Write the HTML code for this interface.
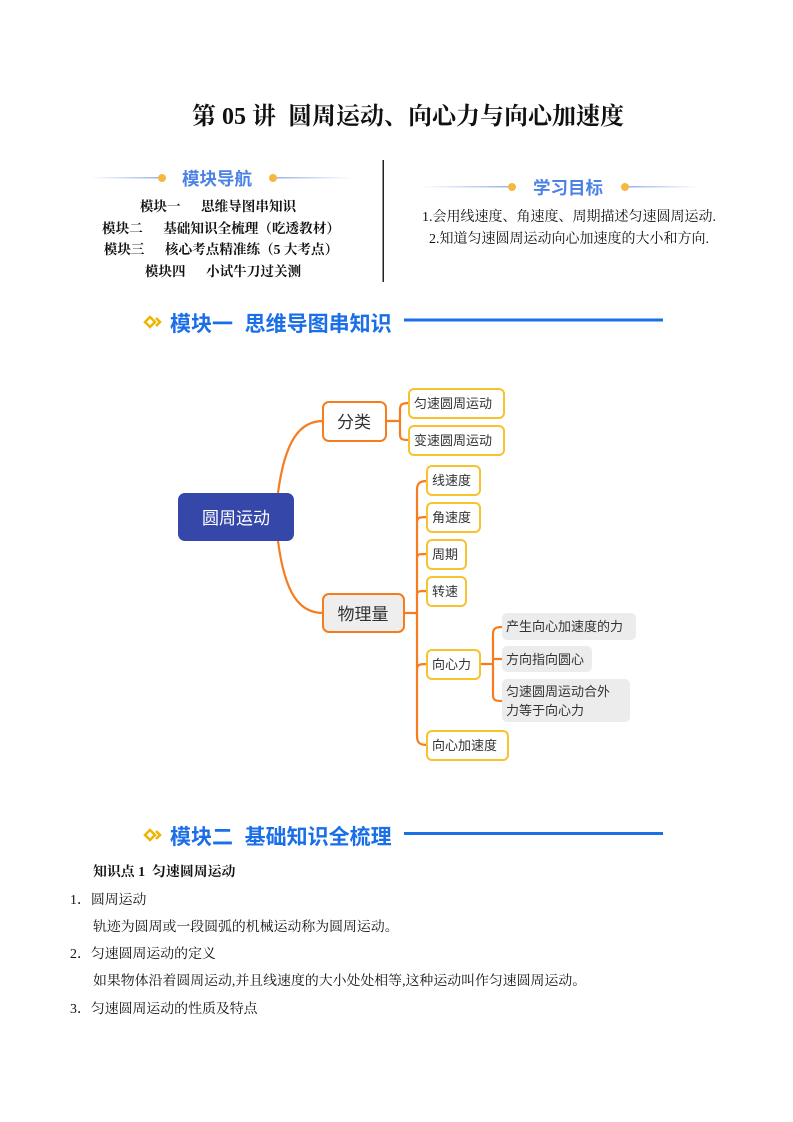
<!DOCTYPE html>
<html><head><meta charset="utf-8"><style>
body{margin:0;background:#fff;}
#p{position:relative;width:793px;height:1122px;overflow:hidden;font-family:"Liberation Serif","Noto Serif CJK SC",serif;color:#111;}
.a{position:absolute;white-space:nowrap;}
.nav{font-weight:bold;font-size:13.6px;}
.h{font-family:"Liberation Sans","Noto Sans CJK SC",sans-serif;font-weight:bold;color:#1a6ee8;font-size:21px;}
.hb{font-family:"Liberation Sans","Noto Sans CJK SC",sans-serif;font-weight:bold;color:#4c82e6;font-size:17.5px;}
.t{font-size:13.9px;}
svg text{font-family:"Liberation Sans","Noto Sans CJK SC",sans-serif;}
</style></head><body><div id="p">
<div class="a" style="left:0;width:816px;text-align:center;top:96px;font-size:24px;font-weight:bold;">第 05 讲&nbsp; 圆周运动、向心力与向心加速度</div>

<svg class="a" style="left:0;top:0" width="793" height="400">
<defs><linearGradient id="g1" x1="0" x2="1"><stop offset="0" stop-color="#fff"/><stop offset="1" stop-color="#9bb4e6"/></linearGradient>
<linearGradient id="g2" x1="0" x2="1"><stop offset="0" stop-color="#9bb4e6"/><stop offset="1" stop-color="#fff"/></linearGradient></defs>
<rect x="90" y="177" width="70" height="1.5" fill="url(#g1)"/><circle cx="162" cy="178" r="4" fill="#f5b942"/>
<circle cx="273" cy="178" r="4" fill="#f5b942"/><rect x="277" y="177" width="75" height="1.5" fill="url(#g2)"/>
<rect x="420" y="186" width="89" height="1.5" fill="url(#g1)"/><circle cx="512" cy="187" r="4" fill="#f5b942"/>
<circle cx="625" cy="187" r="4" fill="#f5b942"/><rect x="629" y="186" width="70" height="1.5" fill="url(#g2)"/>
<rect x="382.5" y="160" width="1.5" height="122" fill="#222"/>
<rect x="404" y="318.5" width="259" height="3" fill="#1a6ee8"/>
<g transform="translate(153,322)"><path d="M-8 0 L-3 -5 L2 0 L-3 5Z" fill="none" stroke="#f0b400" stroke-width="2.5"/><path d="M3 -4 L7 0 L3 4" fill="none" stroke="#f0b400" stroke-width="2.5"/></g>
</svg>
<div class="a hb" style="left:182px;top:166px;">模块导航</div>
<div class="a hb" style="left:533px;top:175px;">学习目标</div>
<div class="a nav" style="left:0;width:436px;text-align:center;top:195px;">模块一&nbsp;&nbsp;&nbsp;&nbsp;&nbsp; 思维导图串知识</div>
<div class="a nav" style="left:0;width:442px;text-align:center;top:217px;">模块二&nbsp;&nbsp;&nbsp;&nbsp;&nbsp; 基础知识全梳理（吃透教材）</div>
<div class="a nav" style="left:0;width:442px;text-align:center;top:238px;">模块三&nbsp;&nbsp;&nbsp;&nbsp;&nbsp; 核心考点精准练（5 大考点）</div>
<div class="a nav" style="left:0;width:446px;text-align:center;top:260px;">模块四&nbsp;&nbsp;&nbsp;&nbsp;&nbsp; 小试牛刀过关测</div>
<div class="a t" style="left:422px;top:206px;font-size:14px;">1.会用线速度、角速度、周期描述匀速圆周运动.</div>
<div class="a t" style="left:429px;top:228px;font-size:14px;">2.知道匀速圆周运动向心加速度的大小和方向.</div>
<div class="a h" style="left:170px;top:308px;">模块一&nbsp; 思维导图串知识</div>

<svg class="a" style="left:0;top:370px" width="793" height="410" viewBox="0 370 793 410">
<g fill="none" stroke="#f57c1f" stroke-width="2.2">
<path d="M278 493 C285 440 300 421 323 421"/>
<path d="M278 541 C285 595 300 613 323 613"/>
<path d="M386 421 H400 M409 403 C401 403 400 405 400 410 V434 C400 439 401 440 409 440"/>
<path d="M404 613 H417 M427 481 C419 481 417 484 417 490 V736 C417 742 419 745 427 745"/>
<path d="M417 522 C417 518 419 517 427 517 M417 558 C417 554 419 554 427 554 M417 595 C417 591 419 591 427 591 M417 669 C417 665 419 664 427 664"/>
<path d="M480 664 H493 M502 627 C495 627 493 629 493 634 V695 C493 700 495 701 502 701 M493 659 H502"/>
</g>
<rect x="178" y="493" width="116" height="48" rx="7" fill="#3547a8"/>
<text x="236" y="524" font-size="17" fill="#fff" text-anchor="middle">圆周运动</text>
<g stroke="#f57c1f" stroke-width="2" fill="#fff"><rect x="323" y="402" width="63" height="39" rx="6"/><rect x="323" y="594" width="81" height="38" rx="6" fill="#eee"/></g>
<text x="354" y="428" font-size="17" text-anchor="middle" fill="#333">分类</text>
<text x="363" y="620" font-size="17" text-anchor="middle" fill="#333">物理量</text>
<g stroke="#f8c22e" stroke-width="2" fill="#fff">
<rect x="409" y="389" width="95" height="29" rx="5"/><rect x="409" y="426" width="95" height="29" rx="5"/>
<rect x="427" y="466" width="53" height="29" rx="5"/><rect x="427" y="503" width="53" height="29" rx="5"/>
<rect x="427" y="540" width="39" height="29" rx="5"/><rect x="427" y="577" width="39" height="29" rx="5"/>
<rect x="427" y="650" width="53" height="29" rx="5"/><rect x="427" y="731" width="81" height="29" rx="5"/>
</g>
<g fill="#ececec"><rect x="502" y="613" width="134" height="27" rx="5"/><rect x="502" y="646" width="90" height="26" rx="5"/><rect x="502" y="679" width="128" height="43" rx="5"/></g>
<g font-size="13" fill="#333">
<text x="414" y="408">匀速圆周运动</text><text x="414" y="445">变速圆周运动</text>
<text x="432" y="485">线速度</text><text x="432" y="522">角速度</text><text x="432" y="559">周期</text><text x="432" y="596">转速</text>
<text x="432" y="669">向心力</text><text x="432" y="750">向心加速度</text>
<text x="506" y="631">产生向心加速度的力</text><text x="506" y="664">方向指向圆心</text>
<text x="506" y="696">匀速圆周运动合外</text><text x="506" y="715">力等于向心力</text>
</g>
</svg>

<svg class="a" style="left:0;top:820px" width="793" height="30">
<rect x="404" y="12" width="259" height="3" fill="#1a6ee8"/>
<g transform="translate(153,15)"><path d="M-8 0 L-3 -5 L2 0 L-3 5Z" fill="none" stroke="#f0b400" stroke-width="2.5"/><path d="M3 -4 L7 0 L3 4" fill="none" stroke="#f0b400" stroke-width="2.5"/></g>
</svg>
<div class="a h" style="left:170px;top:821px;">模块二&nbsp; 基础知识全梳理</div>
<div class="a t" style="left:93px;top:860px;font-weight:bold;">知识点 1&nbsp; 匀速圆周运动</div>
<div class="a t" style="left:70px;top:888px;">1．圆周运动</div>
<div class="a t" style="left:93px;top:915px;">轨迹为圆周或一段圆弧的机械运动称为圆周运动。</div>
<div class="a t" style="left:70px;top:942px;">2．匀速圆周运动的定义</div>
<div class="a t" style="left:93px;top:969px;">如果物体沿着圆周运动,并且线速度的大小处处相等,这种运动叫作匀速圆周运动。</div>
<div class="a t" style="left:70px;top:997px;">3．匀速圆周运动的性质及特点</div>
</div></body></html>
